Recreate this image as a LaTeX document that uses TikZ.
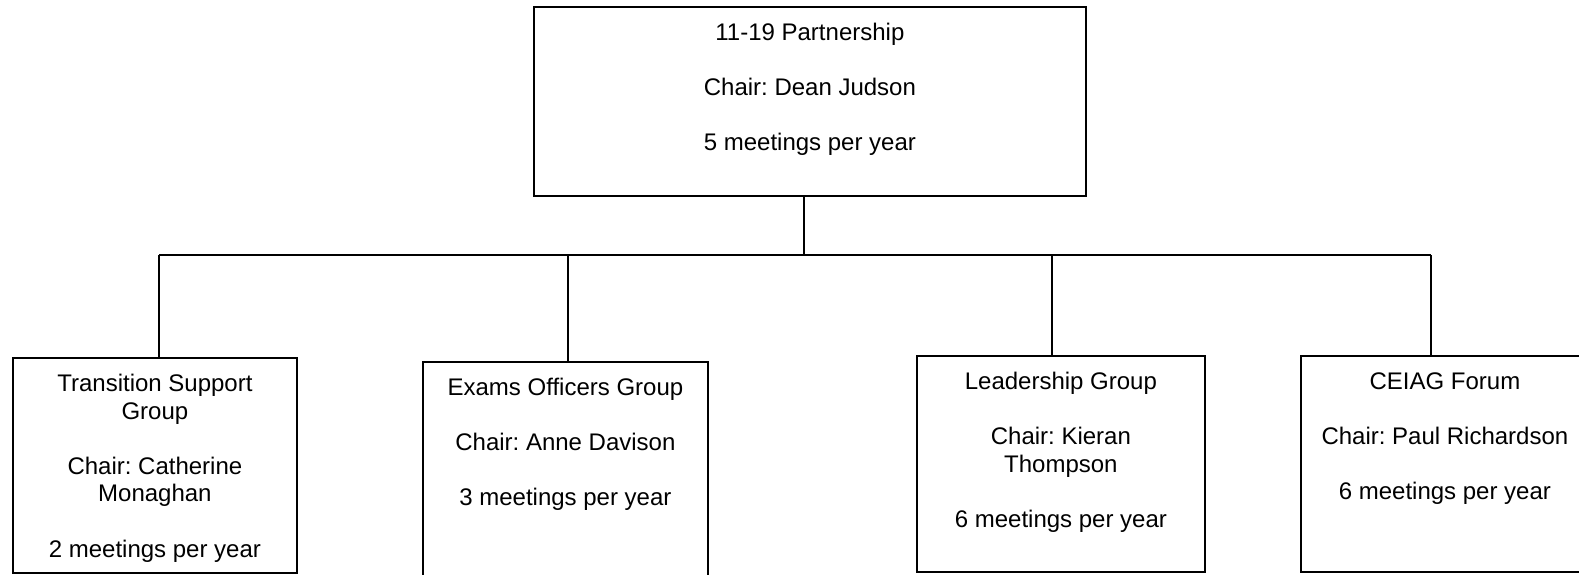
\documentclass[tikz,border=0pt]{standalone}
\usepackage{fontspec}
\setmainfont{Liberation Sans}
\frenchspacing

\tikzset{
	unit/.style={draw, line width=1.8pt, inner sep=0pt, anchor=north west,
		font=\fontsize{24}{27.6}\selectfont},
	link/.style={line width=1.8pt}
}
% box of given width and height, text set from the top
\newcommand{\unittext}[3]{\parbox[c][#2][t]{#1}{\centering\rule{0pt}{33.5pt}#3}}

\begin{document}
\begin{tikzpicture}[x=1pt, y=-1pt]
				\useasboundingbox (0,0) rectangle (1579,574);
				
				% partnership
				\node[unit] (top) at (533,6) {\unittext{552pt}{189pt}{11-19 Partnership\\[\baselineskip]Chair: Dean Judson\\[\baselineskip]5 meetings per year}};
				
				% groups
				\node[unit] (tsg) at (12,357) {\unittext{284pt}{215pt}{Transition Support\\Group\\[\baselineskip]Chair: Catherine\\Monaghan\\[\baselineskip]2 meetings per year}};
				\node[unit] (eog) at (422,361) {\unittext{285pt}{260pt}{Exams Officers Group\\[\baselineskip]Chair: Anne Davison\\[\baselineskip]3 meetings per year}};
				\node[unit] (lg) at (916,355) {\unittext{288pt}{216pt}{Leadership Group\\[\baselineskip]Chair: Kieran\\Thompson\\[\baselineskip]6 meetings per year}};
				\node[unit] (ceiag) at (1300,355) {\unittext{288pt}{216pt}{CEIAG Forum\\[\baselineskip]Chair: Paul Richardson\\[\baselineskip]6 meetings per year}};
				
				% bus
				\coordinate (hub) at (804,255);
				\coordinate (c1) at (159,255);
				\coordinate (c2) at (568,255);
				\coordinate (c3) at (1052,255);
				\coordinate (c4) at (1431,255);
				\draw[link] (top.south -| hub) -- (hub);
				\draw[link] (c1) -- (c4);
				
				\foreach \c/\b in {c1/tsg, c2/eog, c3/lg, c4/ceiag}
					\draw[link] (\c) -- (\c |- \b.north);
				
			\end{tikzpicture}
\end{document}
